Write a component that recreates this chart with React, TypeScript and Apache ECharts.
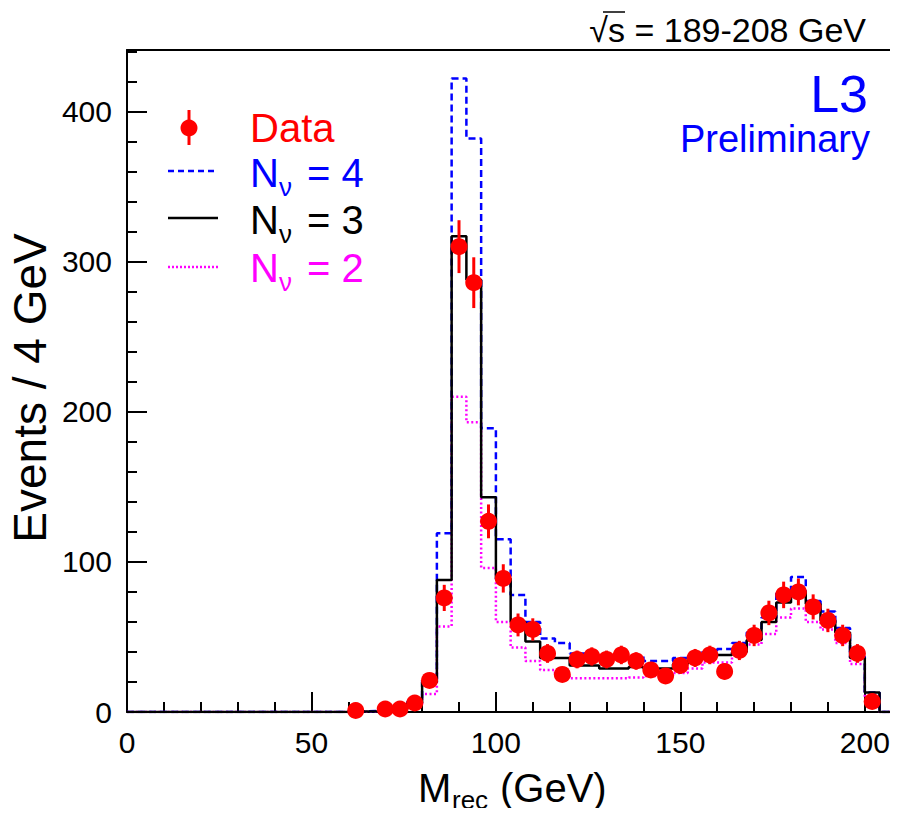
import React, { useEffect, useRef } from "react";
import * as echarts from "echarts";

// Histogram bins: 4 GeV wide, low edges 0..200
const BIN_WIDTH = 4;
const binLows = Array.from({ length: 51 }, (_, i) => i * BIN_WIDTH);

// Monte Carlo predictions (events per bin)
const nu3 = [
  0, 0, 0, 0, 0, 0, 0, 0, 0, 0, 0, 0, 0, 0, 0,
  0.3, 0.5, 1, 2, 6, 20, 88, 317, 288, 143,
  89, 60, 47, 36, 36, 31, 31, 29, 29, 30,
  29, 29, 32, 35, 38, 38, 40, 48, 60, 73,
  80, 72, 61, 53, 36, 13,
];
const nu4 = [
  0, 0, 0, 0, 0, 0, 0, 0, 0, 0, 0, 0, 0, 0, 0,
  0.4, 0.7, 1.3, 2.6, 7, 22, 119, 422, 382, 189,
  115, 78, 60, 49, 46, 39, 39, 37, 37, 37,
  34, 34, 36, 38, 41, 42, 46, 53, 63, 79,
  90, 74, 67, 56, 37, 13,
];
const nu2 = [
  0, 0, 0, 0, 0, 0, 0, 0, 0, 0, 0, 0, 0, 0, 0,
  0.2, 0.3, 0.7, 1.3, 4, 12, 57, 210, 193, 96,
  60, 43, 34, 28, 24, 22.5, 22.5, 22.5, 22.5, 23,
  24, 24, 26, 29, 33, 33, 39, 45, 52, 63,
  69, 60, 55, 46, 32, 9,
];

// Data points (bin centres) and counts
const dataX = [
  62, 70, 74, 78, 82, 86, 90, 94, 98, 102, 106, 110, 114, 118, 122, 126, 130, 134,
  138, 142, 146, 150, 154, 158, 162, 166, 170, 174, 178, 182, 186, 190, 194, 198, 202,
];
const dataY = [
  1, 2, 2, 6, 21, 76, 310, 286, 127, 89, 58, 55, 39, 25, 35, 37, 35, 38,
  34, 28, 24, 31, 36, 38, 27, 41, 51, 66, 78, 80, 70, 61, 51, 39, 7,
];

const xTicks = [0, 50, 100, 150, 200];
const yTicks = [0, 100, 200, 300, 400];
const X_MAX = 209;
const Y_MAX = 441;

const FONT = "'Liberation Sans', Arial, Helvetica, sans-serif";

function histData(vals: number[]) {
  const pts: number[][] = [[0, 0]];
  vals.forEach((v, i) => pts.push([binLows[i], v]));
  pts.push([binLows[binLows.length - 1] + BIN_WIDTH, 0]);
  pts.push([X_MAX, 0]);
  return pts;
}

function txt(text: string, x: number, y: number, size: number, color: string, align = "left", extra: any = {}) {
  return {
    type: "text",
    x,
    y,
    ...extra,
    style: {
      text,
      fill: color,
      font: `${size}px ${FONT}`,
      textAlign: align,
      align,
      textVerticalAlign: "middle",
      verticalAlign: "middle",
    },
  };
}

export default function App() {
  const ref = useRef<HTMLDivElement>(null);
  useEffect(() => {
    if (!ref.current) return;
    const chart = echarts.init(ref.current, undefined, { renderer: "svg" });
    const axisLineStyle = { color: "#000", width: 2 };
    const option: any = {
      animation: false,
      backgroundColor: "#fff",
      grid: { left: 127, top: 50, right: 0, bottom: 104, containLabel: false },
      xAxis: [
        {
          type: "value",
          min: 0,
          max: X_MAX,
          interval: 50,
          axisLine: { show: true, onZero: false, lineStyle: axisLineStyle },
          axisTick: { show: true, inside: true, length: 20, lineStyle: { color: "#000", width: 2 } },
          minorTick: { show: true, splitNumber: 5, length: 10, lineStyle: { color: "#000", width: 2 } },
          splitLine: { show: false },
          axisLabel: {
            color: "#000",
            fontSize: 30,
            fontFamily: FONT,
            margin: 15,
            showMaxLabel: false,
            formatter: (v: number) => (xTicks.includes(v) ? String(v) : ""),
          },
        },
        {
          type: "value",
          position: "top",
          min: 0,
          max: X_MAX,
          axisLine: { show: true, onZero: false, lineStyle: axisLineStyle },
          axisTick: { show: false },
          axisLabel: { show: false },
          splitLine: { show: false },
        },
      ],
      yAxis: {
        type: "value",
        min: 0,
        max: Y_MAX,
        interval: 100,
        axisLine: { show: true, onZero: false, lineStyle: axisLineStyle },
        axisTick: { show: true, inside: true, length: 20, lineStyle: { color: "#000", width: 2 } },
        minorTick: { show: true, splitNumber: 5, length: 10, lineStyle: { color: "#000", width: 2 } },
        splitLine: { show: false },
        axisLabel: {
          color: "#000",
          fontSize: 30,
          fontFamily: FONT,
          margin: 15,
          showMaxLabel: false,
          formatter: (v: number) => (yTicks.includes(v) ? String(v) : ""),
        },
      },
      series: [
        {
          name: "Nν = 2",
          type: "line",
          step: "end",
          symbol: "none",
          data: histData(nu2),
          lineStyle: { color: "#ff00ff", width: 2.5, type: [2, 2.5] },
          z: 2,
        },
        {
          name: "Nν = 4",
          type: "line",
          step: "end",
          symbol: "none",
          data: histData(nu4),
          lineStyle: { color: "#0000ff", width: 2.5, type: [7, 4] },
          z: 3,
        },
        {
          name: "Nν = 3",
          type: "line",
          step: "end",
          symbol: "none",
          data: histData(nu3),
          lineStyle: { color: "#000000", width: 2.5 },
          z: 4,
        },
        {
          name: "Data",
          type: "custom",
          data: dataX.map((x, i) => [x, dataY[i]]),
          encode: { x: 0, y: 1 },
          z: 5,
          renderItem: (params: any, api: any) => {
            const x = api.value(0);
            const y = api.value(1);
            const err = Math.sqrt(y);
            const p = api.coord([x, y]);
            const lo = api.coord([x, Math.max(0, y - err)]);
            const hi = api.coord([x, y + err]);
            return {
              type: "group",
              children: [
                {
                  type: "line",
                  shape: { x1: p[0], y1: lo[1], x2: p[0], y2: hi[1] },
                  style: { stroke: "#ff0000", lineWidth: 3 },
                },
                {
                  type: "circle",
                  shape: { cx: p[0], cy: p[1], r: 8.5 },
                  style: { fill: "#ff0000" },
                },
              ],
            };
          },
        },
      ],
      graphic: [
        // top-right energy label
        txt("√s = 189-208 GeV", 866, 30, 34, "#000", "right"),
        { type: "line", shape: { x1: 603, y1: 12, x2: 625, y2: 12 }, style: { stroke: "#000", lineWidth: 1.5 } },
        txt("L3", 868, 94, 52, "#0000ff", "right"),
        txt("Preliminary", 870, 139, 38, "#0000ff", "right"),
        // axis titles
        txt("Events / 4 GeV", 30, 388, 46, "#000", "center", { rotation: Math.PI / 2 }),
        txt("M", 418, 788, 40, "#000", "left"),
        txt("rec", 452, 800, 26, "#000", "left"),
        txt("(GeV)", 500, 788, 40, "#000", "left"),
        // legend
        { type: "line", shape: { x1: 189, y1: 110, x2: 189, y2: 145 }, style: { stroke: "#ff0000", lineWidth: 3 } },
        { type: "circle", shape: { cx: 189, cy: 128, r: 8.5 }, style: { fill: "#ff0000" } },
        txt("Data", 250, 128, 40, "#ff0000", "left"),
        { type: "line", shape: { x1: 168, y1: 171, x2: 218, y2: 171 }, style: { stroke: "#0000ff", lineWidth: 2.5, lineDash: [6, 4] } },
        txt("N", 250, 173, 40, "#0000ff", "left"),
        txt("ν", 279, 187, 26, "#0000ff", "left"),
        txt("= 4", 307, 173, 40, "#0000ff", "left"),
        { type: "line", shape: { x1: 168, y1: 218, x2: 218, y2: 218 }, style: { stroke: "#000", lineWidth: 2.5 } },
        txt("N", 250, 220, 40, "#000", "left"),
        txt("ν", 279, 234, 26, "#000", "left"),
        txt("= 3", 307, 220, 40, "#000", "left"),
        { type: "line", shape: { x1: 168, y1: 267, x2: 218, y2: 267 }, style: { stroke: "#ff00ff", lineWidth: 2.5, lineDash: [2, 2] } },
        txt("N", 250, 268, 40, "#ff00ff", "left"),
        txt("ν", 279, 282, 26, "#ff00ff", "left"),
        txt("= 2", 307, 268, 40, "#ff00ff", "left"),
      ],
    };
    chart.setOption(option);
    return () => chart.dispose();
  }, []);
  return <div ref={ref} style={{ width: 898, height: 816, margin: -8 }} />;
}
